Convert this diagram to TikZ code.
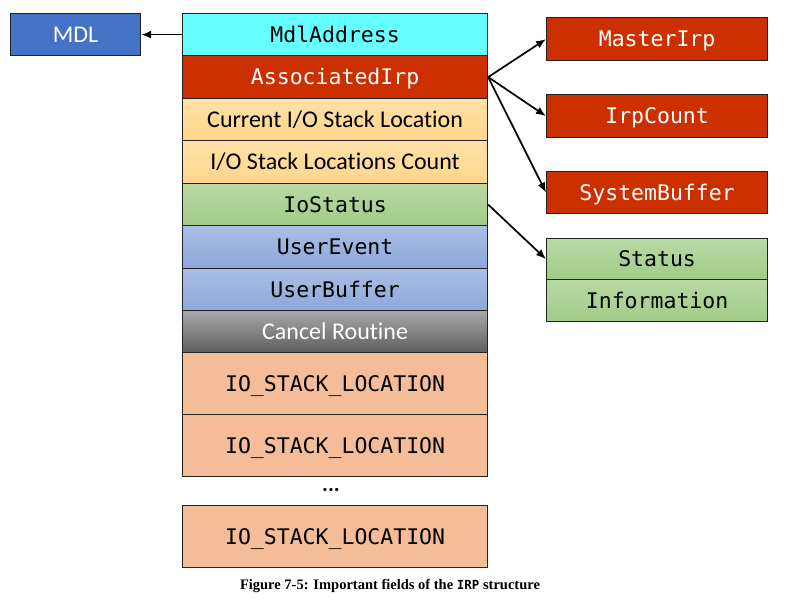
\documentclass[tikz,border=0pt]{standalone}
\usepackage{fontspec}
\setsansfont{Carlito}[Ligatures=NoCommon]
\setmainfont{Liberation Serif}
\newfontfamily\monof{DejaVu Sans Mono}
\usetikzlibrary{arrows.meta}
\definecolor{cyanf}{HTML}{66FFFF}
\definecolor{redf}{HTML}{CC3000}
\definecolor{orT}{HTML}{FFE1A8}
\definecolor{orB}{HTML}{FFD58A}
\definecolor{grT}{HTML}{B8D9A4}
\definecolor{grB}{HTML}{A2CB88}
\definecolor{blT}{HTML}{AABEE5}
\definecolor{blB}{HTML}{8DA7DA}
\definecolor{gyT}{HTML}{A8A8A8}
\definecolor{gyB}{HTML}{5E5E5E}
\definecolor{salf}{HTML}{F5BD97}
\definecolor{mdlf}{HTML}{4472C4}
\definecolor{edge}{HTML}{222222}
\tikzset{
  box/.style={draw=edge, line width=1.2pt, inner sep=0pt, anchor=north west,
    text height=18pt, text depth=2.5pt},
  row/.style={box, minimum width=305pt},
  side/.style={box, minimum width=221pt},
  mtxt/.style={font=\monof\fontsize{21.5}{24}\selectfont},
  stxt/.style={font=\sffamily\fontsize{24}{28}\selectfont},
  conn/.style={line width=1.7pt, -{Latex[length=10pt,width=8pt]}},
}
\begin{document}
\begin{tikzpicture}[x=1pt,y=-1pt]
\useasboundingbox (0,0) rectangle (789,600);
% main column
\node[row, mtxt, minimum height=42pt, fill=cyanf] (mdladdr) at (182,13) {MdlAddress};
\node[row, mtxt, minimum height=43pt, fill=redf, text=white] (assoc) at (182,55) {AssociatedIrp};
\node[row, stxt, minimum height=42pt, top color=orT, bottom color=orB] (cur) at (182,98) {Current I/O Stack Location};
\node[row, stxt, minimum height=43pt, top color=orT, bottom color=orB] (cnt) at (182,140) {I/O Stack Locations Count};
\node[row, mtxt, minimum height=42pt, top color=grT, bottom color=grB] (iostatus) at (182,183) {IoStatus};
\node[row, mtxt, minimum height=43pt, top color=blT, bottom color=blB] (uevent) at (182,225) {UserEvent};
\node[row, mtxt, minimum height=42pt, top color=blT, bottom color=blB] (ubuf) at (182,268) {UserBuffer};
\node[row, stxt, minimum height=42pt, top color=gyT, bottom color=gyB, text=white] (cancel) at (182,310) {Cancel Routine};
\node[row, mtxt, minimum height=62pt, fill=salf] (io1) at (182,352) {IO\_STACK\_LOCATION};
\node[row, mtxt, minimum height=62pt, fill=salf] (io2) at (182,414) {IO\_STACK\_LOCATION};
\node[font=\sffamily\bfseries\fontsize{22}{24}\selectfont, inner sep=0pt] (dots) at (331,490) {...};
\node[row, mtxt, minimum height=62pt, fill=salf] (io3) at (182,505) {IO\_STACK\_LOCATION};
% MDL
\node[box, stxt, minimum width=130pt, minimum height=42pt, fill=mdlf, text=white] (mdl) at (10,13) {MDL};
% right side
\node[side, mtxt, minimum height=43pt, fill=redf, text=white] (master) at (546,17) {MasterIrp};
\node[side, mtxt, minimum height=43pt, fill=redf, text=white] (irpcount) at (546,94) {IrpCount};
\node[side, mtxt, minimum height=42pt, fill=redf, text=white] (sysbuf) at (546,171) {SystemBuffer};
\node[side, mtxt, minimum height=41pt, top color=grT, bottom color=grB] (status) at (546,238) {Status};
\node[side, mtxt, minimum height=42pt, top color=grT, bottom color=grB] (info) at (546,279) {Information};
% connectors
\draw[conn] (mdladdr.west) -- (mdl.east);
\draw[conn] (assoc.east) -- (master.west);
\draw[conn] (assoc.east) -- (irpcount.west);
\draw[conn] (assoc.east) -- (sysbuf.west);
\draw[conn] (iostatus.east) -- (status.west);
% caption
\node[font=\bfseries\fontsize{14.5}{16}\selectfont, inner sep=0pt] (cap) at (390,586) {Figure 7-5: Important fields of the {\monof\fontsize{12.5}{16}\selectfont IRP} structure};
\end{tikzpicture}
\end{document}
